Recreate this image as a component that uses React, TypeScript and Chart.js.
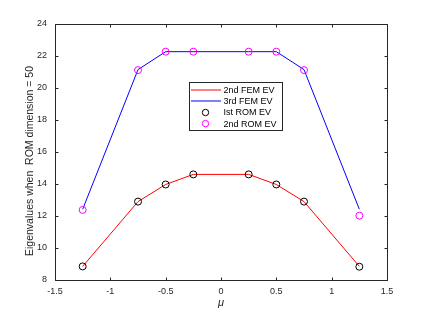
import React, { useEffect, useRef } from "react";
import { Chart, registerables } from "chart.js";

Chart.register(...registerables);

const muValues = [-1.25, -0.75, -0.5, -0.25, 0.25, 0.5, 0.75, 1.25];
const fem2nd = [8.85, 12.9, 13.97, 14.6, 14.6, 13.97, 12.9, 8.85];
const fem3rd = [12.42, 21.15, 22.27, 22.27, 22.27, 22.27, 21.15, 12.42];
const rom1st = [8.85, 12.9, 13.97, 14.6, 14.6, 13.97, 12.9, 8.83];
const rom2nd = [12.38, 21.12, 22.27, 22.27, 22.27, 22.27, 21.12, 12.02];
const seriesNames = ["2nd FEM EV", "3rd FEM EV", "Ist ROM EV", "2nd ROM EV"];
const xTickValues = [-1.5, -1, -0.5, 0, 0.5, 1, 1.5];
const yTickValues = [8, 10, 12, 14, 16, 18, 20, 22, 24];
const xTitle = "\u03bc";
const yTitle = "Eigenvalues when  ROM dimension = 50";

const FONT = "'Liberation Sans', Arial, Helvetica, sans-serif";
const AXIS_COLOR = "#262626";

const pts = (ys: number[]) => muValues.map((x, i) => ({ x, y: ys[i] }));

const boxTicksPlugin = {
  id: "boxTicks",
  afterDatasetsDraw(chart: any) {
    const { ctx, chartArea, scales } = chart;
    const { left, right, top, bottom } = chartArea;
    const L = Math.round(left) + 0.5;
    const R = Math.round(right) + 0.5;
    const T = Math.round(top) + 0.5;
    const B = Math.round(bottom) + 0.5;
    ctx.save();
    ctx.strokeStyle = AXIS_COLOR;
    ctx.lineWidth = 1;
    ctx.beginPath();
    ctx.rect(L, T, R - L, B - T);
    const tl = 3;
    xTickValues.forEach((v) => {
      const px = Math.round(scales.x.getPixelForValue(v)) + 0.5;
      ctx.moveTo(px, B);
      ctx.lineTo(px, B - tl);
      ctx.moveTo(px, T);
      ctx.lineTo(px, T + tl);
    });
    yTickValues.forEach((v) => {
      const py = Math.round(scales.y.getPixelForValue(v)) + 0.5;
      ctx.moveTo(L, py);
      ctx.lineTo(L + tl, py);
      ctx.moveTo(R, py);
      ctx.lineTo(R - tl, py);
    });
    ctx.stroke();
    ctx.restore();

    // y-axis title (MATLAB places it slightly below the axis centre here)
    ctx.save();
    ctx.fillStyle = AXIS_COLOR;
    ctx.font = `10.5px ${FONT}`;
    ctx.textAlign = "center";
    ctx.textBaseline = "middle";
    ctx.translate(30.5, 161);
    ctx.rotate(-Math.PI / 2);
    ctx.fillText(yTitle, 0, 0);
    ctx.restore();
  },
};

const legendPlugin = {
  id: "floatLegend",
  afterDraw(chart: any) {
    const { ctx } = chart;
    const bx = 189.5;
    const by = 82.5;
    const bw = 93;
    const bh = 48;
    ctx.save();
    ctx.fillStyle = "#ffffff";
    ctx.fillRect(bx, by, bw, bh);
    ctx.strokeStyle = AXIS_COLOR;
    ctx.lineWidth = 1;
    ctx.strokeRect(bx, by, bw, bh);
    const rows = [89.7, 101.3, 112.5, 123.6];
    const styles = [
      { kind: "line", color: "#ff0000" },
      { kind: "line", color: "#0000ff" },
      { kind: "marker", color: "#000000" },
      { kind: "marker", color: "#ff00ff" },
    ];
    ctx.font = `9px ${FONT}`;
    ctx.textBaseline = "middle";
    ctx.textAlign = "left";
    styles.forEach((s, i) => {
      const y = rows[i];
      if (s.kind === "line") {
        ctx.strokeStyle = s.color;
        ctx.lineWidth = 1;
        ctx.beginPath();
        ctx.moveTo(191, Math.round(y));
        ctx.lineTo(221, Math.round(y));
        ctx.stroke();
      } else {
        ctx.strokeStyle = s.color;
        ctx.lineWidth = 1;
        ctx.beginPath();
        ctx.arc(205.5, y, 3.2, 0, Math.PI * 2);
        ctx.stroke();
      }
      ctx.fillStyle = "#000000";
      ctx.fillText(seriesNames[i], 223.5, y + 0.5);
    });
    ctx.restore();
  },
};

export default function App() {
  const ref = useRef<HTMLCanvasElement | null>(null);
  useEffect(() => {
    if (!ref.current) return;
    const chart = new Chart(ref.current, {
      type: "scatter",
      data: {
        datasets: [
          {
            label: seriesNames[2],
            data: pts(rom1st),
            showLine: false,
            pointRadius: 3.5,
            pointBorderWidth: 1,
            pointBorderColor: "#000000",
            pointBackgroundColor: "rgba(0,0,0,0)",
            order: 0,
          },
          {
            label: seriesNames[3],
            data: pts(rom2nd),
            showLine: false,
            pointRadius: 3.5,
            pointBorderWidth: 1,
            pointBorderColor: "#ff00ff",
            pointBackgroundColor: "rgba(0,0,0,0)",
            order: 0,
          },
          {
            label: seriesNames[0],
            data: pts(fem2nd),
            showLine: true,
            borderColor: "#ff0000",
            borderWidth: 1,
            pointRadius: 0,
            order: 1,
          },
          {
            label: seriesNames[1],
            data: pts(fem3rd),
            showLine: true,
            borderColor: "#0000ff",
            borderWidth: 1,
            pointRadius: 0,
            order: 1,
          },
        ],
      },
      options: {
        animation: false,
        responsive: false,
        devicePixelRatio: 1,
        layout: { padding: { left: 0, right: 41, top: 24, bottom: 0 } },
        plugins: { legend: { display: false }, tooltip: { enabled: false } },
        scales: {
          x: {
            type: "linear",
            min: -1.5,
            max: 1.5,
            afterBuildTicks: (s: any) => {
              s.ticks = xTickValues.map((v) => ({ value: v }));
            },
            afterFit: (s: any) => {
              s.height = 35;
            },
            grid: { display: false, drawTicks: false },
            border: { display: false },
            ticks: {
              padding: 6,
              color: AXIS_COLOR,
              font: { family: FONT, size: 9 },
              maxRotation: 0,
              callback: (v: any) => String(v),
            },
            title: {
              display: true,
              text: xTitle,
              color: AXIS_COLOR,
              font: { family: FONT, size: 11, style: "italic" },
              padding: { top: 0, bottom: 5 },
            },
          },
          y: {
            type: "linear",
            min: 8,
            max: 24,
            afterBuildTicks: (s: any) => {
              s.ticks = yTickValues.map((v) => ({ value: v }));
            },
            afterFit: (s: any) => {
              s.width = 55;
            },
            grid: { display: false, drawTicks: false },
            border: { display: false },
            ticks: {
              padding: 8,
              color: AXIS_COLOR,
              font: { family: FONT, size: 9 },
              callback: (v: any) => String(v),
            },
            title: { display: false, text: yTitle },
          },
        },
      },
      plugins: [boxTicksPlugin, legendPlugin],
    });
    return () => chart.destroy();
  }, []);
  return (
    <div style={{ position: "fixed", left: 0, top: 0, width: 428, height: 315, background: "#fff" }}>
      <canvas ref={ref} width={428} height={315} />
    </div>
  );
}
